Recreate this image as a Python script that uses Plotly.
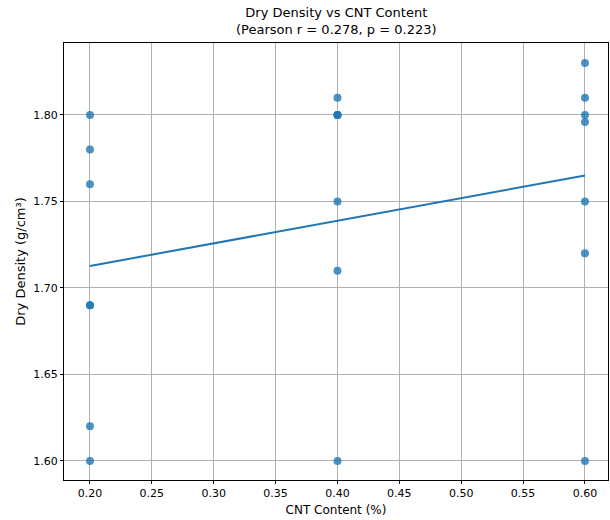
import numpy as np
import plotly.graph_objects as go

cnt = [0.2]*7 + [0.4]*7 + [0.6]*7
density = [1.80, 1.78, 1.76, 1.69, 1.69, 1.62, 1.60,
           1.81, 1.80, 1.80, 1.80, 1.75, 1.71, 1.60,
           1.83, 1.81, 1.80, 1.796, 1.75, 1.72, 1.60]
x_ticks = [0.20, 0.25, 0.30, 0.35, 0.40, 0.45, 0.50, 0.55, 0.60]
y_ticks = [1.60, 1.65, 1.70, 1.75, 1.80]
title_text = "Dry Density vs CNT Content<br>(Pearson r = 0.278, p = 0.223)"

slope, intercept = np.polyfit(cnt, density, 1)
xs = np.array(cnt)
fit = slope * xs + intercept

fig = go.Figure()
fig.add_trace(go.Scatter(x=cnt, y=density, mode="markers",
                         marker=dict(color="#1f77b4", size=8, opacity=0.8, line=dict(width=0)),
                         showlegend=False))
fig.add_trace(go.Scatter(x=xs, y=fit, mode="lines",
                         line=dict(color="#1f77b4", width=2), showlegend=False))

font = "DejaVu Sans"
fig.update_layout(
    width=610, height=520,
    margin=dict(l=64, r=2, t=43, b=40),
    paper_bgcolor="white", plot_bgcolor="white",
    font=dict(family=font, color="black", size=11),
)
fig.add_annotation(text=title_text, xref="paper", yref="paper", x=0.5, y=1,
                   xanchor="center", yanchor="bottom", yshift=4, showarrow=False,
                   font=dict(size=13, family=font, color="black"))
fig.update_xaxes(range=[0.179, 0.6186], tickvals=x_ticks, ticktext=[f"{v:.2f}" for v in x_ticks],
                 showgrid=True, gridcolor="#b0b0b0", gridwidth=1,
                 showline=True, linecolor="black", linewidth=1, mirror=True,
                 ticks="outside", ticklen=3, tickcolor="black", zeroline=False,
                 title=dict(text="CNT Content (%)", font=dict(size=12), standoff=6))
fig.update_yaxes(range=[1.589, 1.8416], tickvals=y_ticks, ticktext=[f"{v:.2f}" for v in y_ticks],
                 showgrid=True, gridcolor="#b0b0b0", gridwidth=1,
                 showline=True, linecolor="black", linewidth=1, mirror=True,
                 ticks="outside", ticklen=3, tickcolor="black", zeroline=False,
                 title=dict(text="Dry Density (g/cm³)", font=dict(size=13), standoff=4))

fig.write_html("out.html", config={"displayModeBar": False},
               post_script="document.body.style.margin='0';document.body.style.overflow='hidden';")
